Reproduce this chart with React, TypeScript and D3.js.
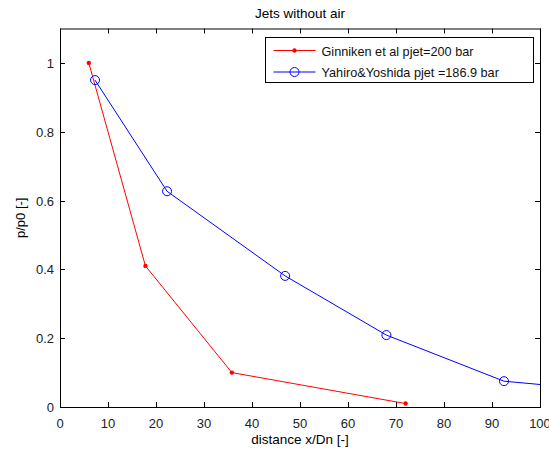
import React, { useEffect, useRef } from "react";
import * as d3 from "d3";

// Pressure decay along the jet axis
const ginnikenX = [6, 17.8, 35.8, 72];
const ginnikenY = [1.0, 0.41, 0.1, 0.01];
const yahiroX = [7.3, 22.3, 46.9, 68.0, 92.5, 116];
const yahiroY = [0.95, 0.627, 0.381, 0.209, 0.075, 0.045];

const xTicks = [0, 10, 20, 30, 40, 50, 60, 70, 80, 90, 100];
const yTicks = [0, 0.2, 0.4, 0.6, 0.8, 1];
const seriesNames = ["Ginniken et al pjet=200 bar", "Yahiro&Yoshida pjet =186.9 bar"];

const W = 549;
const H = 450;
const M = { left: 60, right: 540, top: 28.5, bottom: 407 };
const FONT = "'Liberation Sans', Arial, sans-serif";

export default function App() {
  const ref = useRef<SVGSVGElement>(null);

  useEffect(() => {
    const svg = d3.select(ref.current);
    svg.selectAll("*").remove();

    const x = d3.scaleLinear().domain([0, 100]).range([M.left, M.right]);
    const y = d3.scaleLinear().domain([0, 1.1]).range([M.bottom, M.top]);

    svg.append("rect").attr("width", W).attr("height", H).attr("fill", "#fff");

    svg
      .append("defs")
      .append("clipPath")
      .attr("id", "plot-clip")
      .append("rect")
      .attr("x", M.left)
      .attr("y", M.top)
      .attr("width", M.right - M.left)
      .attr("height", M.bottom - M.top);

    // Ticks (inward, on all four sides)
    const tl = 5;
    const tg = svg.append("g").attr("stroke", "#000").attr("stroke-width", 1);
    xTicks.forEach((t) => {
      const px = Math.round(x(t)) + 0.5;
      tg.append("line").attr("x1", px).attr("x2", px).attr("y1", M.bottom).attr("y2", M.bottom - tl);
      tg.append("line").attr("x1", px).attr("x2", px).attr("y1", M.top).attr("y2", M.top + tl);
    });
    yTicks.forEach((t) => {
      const py = Math.round(y(t)) + 0.5;
      tg.append("line").attr("x1", M.left).attr("x2", M.left + tl).attr("y1", py).attr("y2", py);
      tg.append("line").attr("x1", M.right).attr("x2", M.right - tl).attr("y1", py).attr("y2", py);
    });

    // Tick labels
    const lg = svg.append("g").attr("font-family", FONT).attr("font-size", 13).attr("fill", "#222");
    xTicks.forEach((t) => {
      lg.append("text").attr("x", x(t)).attr("y", M.bottom + 21).attr("text-anchor", "middle").text(String(t));
    });
    yTicks.forEach((t) => {
      lg.append("text")
        .attr("x", M.left - 6)
        .attr("y", y(t) + 5)
        .attr("text-anchor", "end")
        .text(String(t));
    });

    const mk = (xs: number[], ys: number[]) =>
      d3
        .line<number>()
        .x((d) => x(xs[d]))
        .y((d) => y(ys[d]))(d3.range(xs.length)) as string;

    // Series
    const plot = svg.append("g").attr("clip-path", "url(#plot-clip)");
    plot
      .append("path")
      .attr("d", mk(ginnikenX, ginnikenY))
      .attr("fill", "none")
      .attr("stroke", "#ff0000")
      .attr("stroke-width", 1);
    ginnikenX.forEach((v, i) => {
      plot.append("circle").attr("cx", x(v)).attr("cy", y(ginnikenY[i])).attr("r", 2.2).attr("fill", "#ff0000");
    });
    plot
      .append("path")
      .attr("d", mk(yahiroX, yahiroY))
      .attr("fill", "none")
      .attr("stroke", "#0000ff")
      .attr("stroke-width", 1);
    yahiroX.forEach((v, i) => {
      plot
        .append("circle")
        .attr("cx", x(v))
        .attr("cy", y(yahiroY[i]))
        .attr("r", 4.5)
        .attr("fill", "none")
        .attr("stroke", "#0000ff")
        .attr("stroke-width", 1);
    });

    // Axes box
    svg
      .append("rect")
      .attr("x", M.left + 0.5)
      .attr("y", M.top + 0.5)
      .attr("width", M.right - M.left)
      .attr("height", M.bottom - M.top)
      .attr("fill", "none")
      .attr("stroke", "#000")
      .attr("stroke-width", 1);

    // Legend
    const lx = 265.5;
    const ly = 37.5;
    const leg = svg.append("g");
    leg
      .append("rect")
      .attr("x", lx)
      .attr("y", ly)
      .attr("width", 268)
      .attr("height", 45)
      .attr("fill", "#fff")
      .attr("stroke", "#000")
      .attr("stroke-width", 1);
    const rows = [
      { color: "#ff0000", dot: true, cy: 50.5 },
      { color: "#0000ff", dot: false, cy: 72 },
    ];
    rows.forEach((r, i) => {
      leg
        .append("line")
        .attr("x1", lx + 8)
        .attr("x2", lx + 50)
        .attr("y1", r.cy)
        .attr("y2", r.cy)
        .attr("stroke", r.color)
        .attr("stroke-width", 1);
      if (r.dot) {
        leg.append("circle").attr("cx", lx + 29).attr("cy", r.cy).attr("r", 2.2).attr("fill", r.color);
      } else {
        leg
          .append("circle")
          .attr("cx", lx + 29)
          .attr("cy", r.cy)
          .attr("r", 4.5)
          .attr("fill", "none")
          .attr("stroke", r.color);
      }
      leg
        .append("text")
        .attr("x", lx + 56)
        .attr("y", r.cy + 5)
        .attr("font-family", FONT)
        .attr("font-size", 12.7)
        .attr("fill", "#111")
        .text(seriesNames[i]);
    });

    // Titles
    svg
      .append("text")
      .attr("x", (M.left + M.right) / 2)
      .attr("y", 18)
      .attr("text-anchor", "middle")
      .attr("font-family", FONT)
      .attr("font-size", 13.5)
      .text("Jets without air");
    svg
      .append("text")
      .attr("x", (M.left + M.right) / 2)
      .attr("y", 444)
      .attr("text-anchor", "middle")
      .attr("font-family", FONT)
      .attr("font-size", 13.5)
      .text("distance x/Dn [-]");
    svg
      .append("text")
      .attr("transform", `translate(25,${(M.top + M.bottom) / 2}) rotate(-90)`)
      .attr("text-anchor", "middle")
      .attr("font-family", FONT)
      .attr("font-size", 13)
      .text("p/p0 [-]");
  }, []);

  return (
    <svg
      ref={ref}
      width={W}
      height={H}
      style={{ position: "absolute", left: 0, top: 0, display: "block" }}
    />
  );
}
